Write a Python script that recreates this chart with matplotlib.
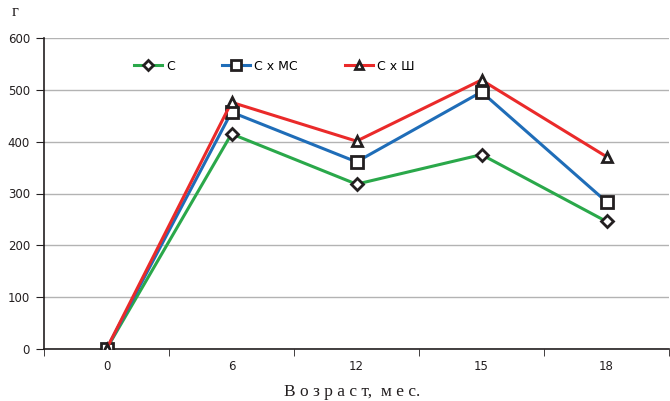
import numpy as np
import matplotlib.pyplot as plt

# data
ages = ['0', '6', '12', '15', '18']
s_c = [0, 415, 318, 375, 246]
s_c_mc = [0, 457, 361, 496, 284]
s_c_sh = [0, 476, 401, 519, 371]

series = [
    ('C', s_c, '#2aa84a', 'D', 6),
    ('C x MC', s_c_mc, '#1f6db8', 's', 8),
    ('C x Ш', s_c_sh, '#ea2a2a', '^', 7.5),
]

fig = plt.figure(figsize=(6.7, 4.01), dpi=100)
ax = fig.add_axes([44 / 670, 1 - 349 / 401, 625 / 670, 311 / 401])

x = np.arange(len(ages))
for name, vals, color, marker, ms in series:
    ax.plot(x, vals, color=color, linewidth=2.2, marker=marker, markersize=ms,
            markerfacecolor='white', markeredgecolor='#231f20',
            markeredgewidth=2.0, label=name, zorder=3)

ax.set_xlim(-0.5, len(ages) - 0.5)
ax.set_ylim(0, 600)
ax.set_yticks(range(0, 601, 100))
ax.grid(axis='y', color='#b3b3b3', linewidth=1)
ax.set_axisbelow(True)

# category labels centered, tick marks between categories
ax.set_xticks(x)
ax.set_xticklabels(ages)
ax.tick_params(axis='x', length=0, pad=8, labelsize=8.5, colors='#231f20')
ax.set_xticks(np.arange(-0.5, len(ages)), minor=True)
ax.tick_params(axis='x', which='minor', length=5, color='#231f20')
ax.tick_params(axis='y', length=6, labelsize=8.5, colors='#231f20', pad=4)

for side in ['top', 'right']:
    ax.spines[side].set_visible(False)
for side in ['left', 'bottom']:
    ax.spines[side].set_color('#231f20')
    ax.spines[side].set_linewidth(1.2)

fig.text(12 / 670, 1 - 12 / 401, 'г', family='Liberation Serif', fontsize=12,
         ha='left', va='center', color='#231f20')
fig.text(352 / 670, 1 - 392 / 401, 'В о з р а с т,  м е с.', family='Liberation Serif',
         fontsize=12.5, ha='center', va='center', color='#231f20')

ax.legend(loc='center left', bbox_to_anchor=(128 / 670, 1 - 66 / 401),
          bbox_transform=fig.transFigure, ncol=3, frameon=False,
          fontsize=9, handlelength=2.2, handletextpad=0.35, columnspacing=3.8,
          borderpad=0, markerscale=0.85)

fig.savefig('out.png', dpi=100)
